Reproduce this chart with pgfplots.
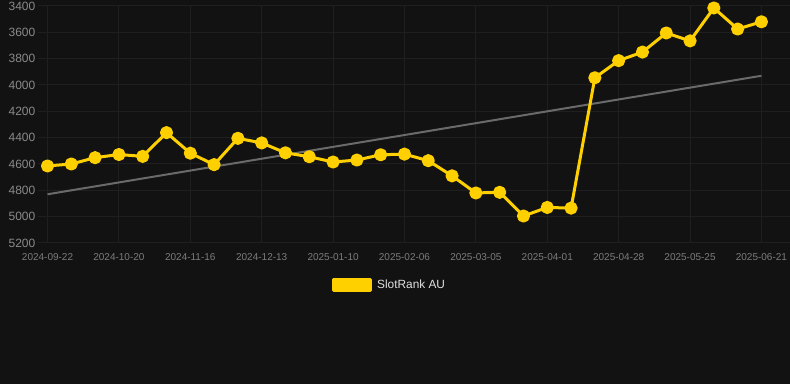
\documentclass[border=0pt]{standalone}
\usepackage{pgfplots}
\pgfplotsset{compat=1.18}
\usepackage{fontspec}
\setmainfont{Liberation Sans}
\definecolor{bgc}{HTML}{121212}
\definecolor{gridc}{HTML}{1F1F1F}
\definecolor{ylw}{HTML}{FFD000}
\definecolor{trendc}{HTML}{6A6A6A}
\definecolor{tickc}{HTML}{8A8A8A}
\definecolor{xtickc}{HTML}{7C7C7C}
\definecolor{legc}{HTML}{E0E0E0}
\begin{document}
\begin{tikzpicture}
\path[use as bounding box, fill=bgc] (0,0) rectangle (592.5pt,288pt);
\begin{axis}[
  at={(28.5pt,283.5pt)}, anchor=north west,
  scale only axis, width=564pt, height=177.75pt,
  xmin=-0.4, xmax=31.2,
  ymin=3400, ymax=5200, y dir=reverse,
  clip=false,
  axis line style={draw=none},
  major tick length=0pt,
  xtick={0,3,...,30},
  xticklabels={2024-09-22,2024-10-20,2024-11-16,2024-12-13,2025-01-10,2025-02-06,2025-03-05,2025-04-01,2025-04-28,2025-05-25,2025-06-21},
  ytick={3400,3600,...,5200},
  scaled y ticks=false,
  /pgf/number format/1000 sep={},
  /pgf/number format/assume math mode=true,
  grid=major,
  major grid style={gridc, line width=0.75pt},
  xticklabel style={font=\fontsize{7.5}{9}\selectfont, text=xtickc, yshift=-4pt},
  yticklabel style={font=\fontsize{9}{10}\selectfont, text=tickc, xshift=1.5pt},
  legend style={at={(0.468,-0.177)}, anchor=center, draw=none, fill=none,
    text=legc, font=\fontsize{8.9}{10}\selectfont, inner sep=0pt,
    /tikz/every even column/.append style={column sep=0pt}},
  legend cell align=left,
  legend image code/.code={\fill[ylw] (0pt,-4.3pt) rectangle (28pt,4.3pt);},
]
\addplot[trendc, line width=1.5pt, forget plot] coordinates {(0,4830) (30,3930)};
\addplot[ylw, line width=2.25pt, line join=round, mark=*, mark size=3.8pt, mark options={solid, fill=ylw, draw=none}] coordinates {
(0,4615) (1,4600) (2,4552) (3,4528) (4,4542) (5,4362) (6,4518) (7,4605) (8,4405) (9,4440)
(10,4515) (11,4545) (12,4585) (13,4570) (14,4530) (15,4525) (16,4575) (17,4690) (18,4820) (19,4815)
(20,4995) (21,4930) (22,4935) (23,3945) (24,3815) (25,3750) (26,3605) (27,3665) (28,3415) (29,3575) (30,3520)
};
\addlegendentry{\hspace{1.5pt}SlotRank AU}
\end{axis}
\end{tikzpicture}
\end{document}
